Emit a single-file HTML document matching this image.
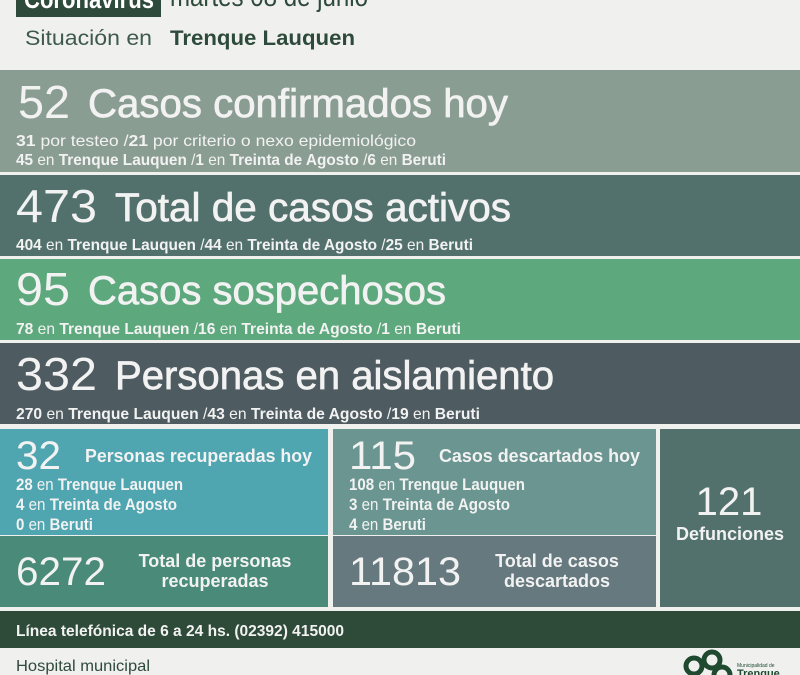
<!DOCTYPE html>
<html><head><meta charset="utf-8"><style>
html,body{margin:0;padding:0;background:#f0f0ef;}
svg{display:block;font-family:"Liberation Sans",sans-serif;}
.h{stroke:#f2f2f2;stroke-width:0.7;}
</style></head><body>
<svg width="800" height="675" viewBox="0 0 800 675" xmlns="http://www.w3.org/2000/svg">
<rect width="800" height="675" fill="#f0f0ef"/>
<rect x="16" y="0" width="145" height="17" fill="#2e4a3b"/>
<text x="24" y="8" fill="#fff" font-size="26" font-weight="bold" textLength="130" lengthAdjust="spacingAndGlyphs">Coronavirus</text>
<text x="170" y="6" fill="#2e4a3b" font-size="28" textLength="198" lengthAdjust="spacingAndGlyphs">martes 08 de junio</text>
<text x="25" y="45" fill="#3e5a50" font-size="21" textLength="127" lengthAdjust="spacingAndGlyphs">Situación en</text>
<text x="170" y="45" fill="#2e4a3b" font-size="21" font-weight="bold" textLength="185" lengthAdjust="spacingAndGlyphs">Trenque Lauquen</text>

<rect x="0" y="70" width="800" height="102" fill="#8a9d92"/>
<rect x="0" y="175" width="800" height="81" fill="#52716d"/>
<rect x="0" y="259" width="800" height="81" fill="#5da87c"/>
<rect x="0" y="343" width="800" height="81" fill="#4e5b60"/>

<g fill="#f2f2f2">
<text x="18" y="118" font-size="46" textLength="52" lengthAdjust="spacingAndGlyphs">52</text>
<text class="h" x="88" y="117" font-size="40" textLength="420" lengthAdjust="spacingAndGlyphs">Casos confirmados hoy</text>
<text x="16" y="146" font-size="16" textLength="400" lengthAdjust="spacingAndGlyphs"><tspan font-weight="bold">31</tspan> por testeo  /<tspan font-weight="bold">21</tspan> por criterio o nexo epidemiológico</text>
<text x="16" y="165" font-size="16" textLength="430" lengthAdjust="spacingAndGlyphs"><tspan font-weight="bold">45</tspan> en <tspan font-weight="bold">Trenque Lauquen</tspan>  /<tspan font-weight="bold">1</tspan> en <tspan font-weight="bold">Treinta de Agosto</tspan>  /<tspan font-weight="bold">6</tspan> en <tspan font-weight="bold">Beruti</tspan></text>

<text x="16" y="222" font-size="46" textLength="81" lengthAdjust="spacingAndGlyphs">473</text>
<text class="h" x="115" y="221" font-size="40" textLength="396" lengthAdjust="spacingAndGlyphs">Total de casos activos</text>
<text x="16" y="250" font-size="16" textLength="457" lengthAdjust="spacingAndGlyphs"><tspan font-weight="bold">404</tspan> en <tspan font-weight="bold">Trenque Lauquen</tspan>  /<tspan font-weight="bold">44</tspan> en <tspan font-weight="bold">Treinta de Agosto</tspan>  /<tspan font-weight="bold">25</tspan> en <tspan font-weight="bold">Beruti</tspan></text>

<text x="16" y="305" font-size="46" textLength="54" lengthAdjust="spacingAndGlyphs">95</text>
<text class="h" x="88" y="304" font-size="40" textLength="358" lengthAdjust="spacingAndGlyphs">Casos sospechosos</text>
<text x="16" y="334" font-size="16" textLength="445" lengthAdjust="spacingAndGlyphs"><tspan font-weight="bold">78</tspan> en <tspan font-weight="bold">Trenque Lauquen</tspan>  /<tspan font-weight="bold">16</tspan> en <tspan font-weight="bold">Treinta de Agosto</tspan>  /<tspan font-weight="bold">1</tspan> en <tspan font-weight="bold">Beruti</tspan></text>

<text x="16" y="390" font-size="46" textLength="81" lengthAdjust="spacingAndGlyphs">332</text>
<text class="h" x="115" y="389" font-size="40" textLength="439" lengthAdjust="spacingAndGlyphs">Personas en aislamiento</text>
<text x="16" y="419" font-size="16" textLength="464" lengthAdjust="spacingAndGlyphs"><tspan font-weight="bold">270</tspan> en <tspan font-weight="bold">Trenque Lauquen</tspan>  /<tspan font-weight="bold">43</tspan> en <tspan font-weight="bold">Treinta de Agosto</tspan>  /<tspan font-weight="bold">19</tspan> en <tspan font-weight="bold">Beruti</tspan></text>
</g>

<rect x="0" y="429" width="328" height="106" fill="#4fa5b0"/>
<rect x="0" y="536" width="328" height="71" fill="#4a8a78"/>
<rect x="333" y="429" width="323" height="106" fill="#6a9590"/>
<rect x="333" y="536" width="323" height="71" fill="#66797f"/>
<rect x="660" y="429" width="140" height="178" fill="#52716d"/>

<g fill="#f2f2f2">
<text x="16" y="469" font-size="40" textLength="45" lengthAdjust="spacingAndGlyphs">32</text>
<text x="85" y="462" font-size="18" font-weight="bold" textLength="227" lengthAdjust="spacingAndGlyphs">Personas recuperadas hoy</text>
<text x="16" y="490" font-size="17" font-weight="bold" textLength="167" lengthAdjust="spacingAndGlyphs">28 <tspan font-weight="normal">en</tspan> Trenque Lauquen</text>
<text x="16" y="510" font-size="17" font-weight="bold" textLength="161" lengthAdjust="spacingAndGlyphs">4 <tspan font-weight="normal">en</tspan> Treinta de Agosto</text>
<text x="16" y="530" font-size="17" font-weight="bold" textLength="77" lengthAdjust="spacingAndGlyphs">0 <tspan font-weight="normal">en</tspan> Beruti</text>
<text x="16" y="585" font-size="40" textLength="90" lengthAdjust="spacingAndGlyphs">6272</text>
<text x="215" y="567" font-size="18" font-weight="bold" text-anchor="middle">Total de personas</text>
<text x="215" y="587" font-size="18" font-weight="bold" text-anchor="middle">recuperadas</text>

<text x="349" y="469" font-size="40" textLength="67" lengthAdjust="spacingAndGlyphs">115</text>
<text x="439" y="462" font-size="18" font-weight="bold" textLength="201" lengthAdjust="spacingAndGlyphs">Casos descartados hoy</text>
<text x="349" y="490" font-size="17" font-weight="bold" textLength="176" lengthAdjust="spacingAndGlyphs">108 <tspan font-weight="normal">en</tspan> Trenque Lauquen</text>
<text x="349" y="510" font-size="17" font-weight="bold" textLength="161" lengthAdjust="spacingAndGlyphs">3 <tspan font-weight="normal">en</tspan> Treinta de Agosto</text>
<text x="349" y="530" font-size="17" font-weight="bold" textLength="77" lengthAdjust="spacingAndGlyphs">4 <tspan font-weight="normal">en</tspan> Beruti</text>
<text x="349" y="585" font-size="40" textLength="112" lengthAdjust="spacingAndGlyphs">11813</text>
<text x="557" y="567" font-size="18" font-weight="bold" text-anchor="middle">Total de casos</text>
<text x="557" y="587" font-size="18" font-weight="bold" text-anchor="middle">descartados</text>

<text x="729" y="515" font-size="40" text-anchor="middle">121</text>
<text x="730" y="540" font-size="18" font-weight="bold" text-anchor="middle">Defunciones</text>
</g>

<rect x="0" y="611" width="800" height="37" fill="#2e4a38"/>
<text x="16" y="636" fill="#f2f2f2" font-size="16" font-weight="bold" textLength="328" lengthAdjust="spacingAndGlyphs">Línea telefónica de 6 a 24 hs. (02392) 415000</text>
<text x="16" y="671" fill="#2e4a3b" font-size="16" textLength="134" lengthAdjust="spacingAndGlyphs">Hospital municipal</text>

<g fill="none" stroke="#1f4a30" stroke-width="5">
<circle cx="694" cy="666" r="8"/>
<circle cx="712" cy="660" r="8"/>
<circle cx="722" cy="675" r="8"/>
</g>
<text x="737" y="667" fill="#1f4a30" font-size="5">Municipalidad de</text>
<text x="737" y="677" fill="#1f4a30" font-size="11" font-weight="bold">Trenque</text>
</svg>
</body></html>
